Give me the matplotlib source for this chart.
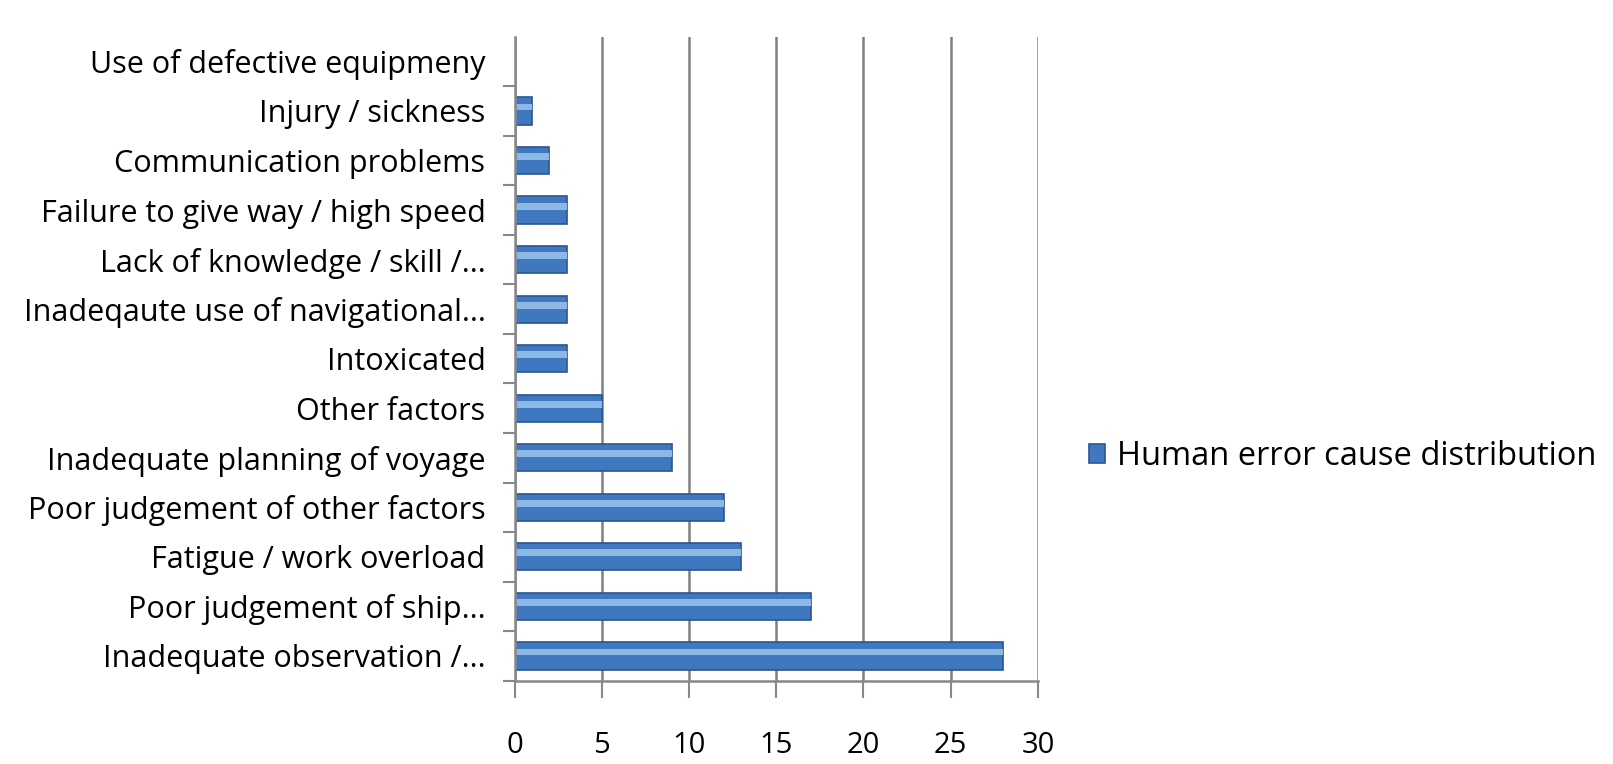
import matplotlib.pyplot as plt

plt.rcParams['font.family'] = ['Open Sans', 'DejaVu Sans']

causes = ["Inadequate observation /...",
          "Poor judgement of ship...",
          "Fatigue / work overload",
          "Poor judgement of other factors",
          "Inadequate planning of voyage",
          "Other factors",
          "Intoxicated",
          "Inadeqaute use of navigational...",
          "Lack of knowledge / skill /...",
          "Failure to give way / high speed",
          "Communication problems",
          "Injury / sickness",
          "Use of defective equipmeny"]
counts = [28, 17, 13, 12, 9, 5, 3, 3, 3, 3, 2, 1, 0]
xticks = [0, 5, 10, 15, 20, 25, 30]

fig = plt.figure(figsize=(16.13, 7.64), dpi=100)
ax = fig.add_axes([0.319, 0.109, 0.3245, 0.843])

y = list(range(len(causes)))
# main bar with darker outline, then a lighter stripe for the glossy look
ax.barh(y, counts, height=0.55, color="#4078bf", edgecolor="#2b5592",
        linewidth=1.2, zorder=3, label="Human error cause distribution")
ax.barh([v + 0.08 for v in y], counts, height=0.14, color="#8cb8e6",
        linewidth=0, zorder=4)

ax.set_xlim(0, 30)
ax.set_ylim(-0.5, len(causes) - 0.5)
ax.set_xticks(xticks)
ax.set_yticks(y)
ax.set_yticklabels(causes, fontsize=22)
ax.set_yticks([v + 0.5 for v in y[:-1]] + [-0.5], minor=True)
ax.tick_params(axis='y', which='major', length=0, pad=21)
ax.tick_params(axis='y', which='minor', length=9, width=1.5, color="#888888")
ax.tick_params(axis='x', labelsize=21, length=12, width=1.5, color="#888888", pad=24)

ax.grid(axis='x', color="#808080", linewidth=1.8, zorder=0)
for s in ['top', 'right']:
    ax.spines[s].set_visible(False)
for s in ['left', 'bottom']:
    ax.spines[s].set_color("#888888")
    ax.spines[s].set_linewidth(1.8)
    ax.spines[s].set_zorder(5)

ax.legend(loc='center left', bbox_to_anchor=(0.675, 0.402), bbox_transform=fig.transFigure,
          frameon=False, fontsize=23.5, handlelength=0.5, handleheight=0.5,
          handletextpad=0.35, borderpad=0, borderaxespad=0)

fig.savefig("out.png", dpi=100)
